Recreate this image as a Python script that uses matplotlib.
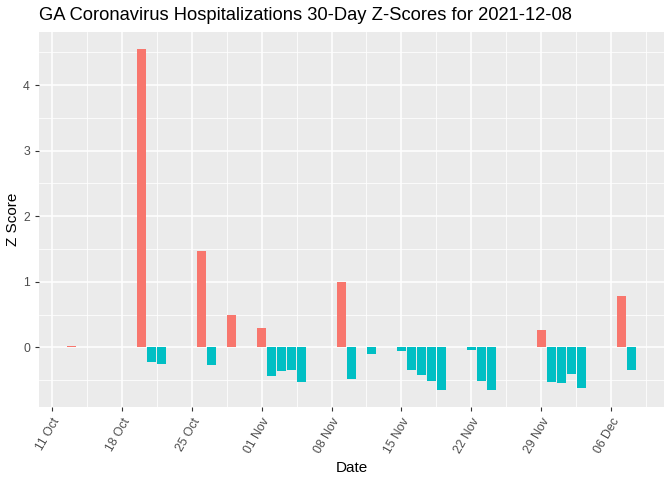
import matplotlib
matplotlib.use("Agg")
import matplotlib.pyplot as plt
import matplotlib.dates as mdates
import numpy as np
import pandas as pd

plt.rcParams['font.family'] = ['Liberation Sans', 'DejaVu Sans']

# z-scores
dates = ["2021-10-13", "2021-10-20", "2021-10-21", "2021-10-22", "2021-10-26",
         "2021-10-27", "2021-10-29", "2021-11-01", "2021-11-02", "2021-11-03",
         "2021-11-04", "2021-11-05", "2021-11-09", "2021-11-10", "2021-11-12",
         "2021-11-15", "2021-11-16", "2021-11-17", "2021-11-18", "2021-11-19",
         "2021-11-22", "2021-11-23", "2021-11-24", "2021-11-29", "2021-11-30",
         "2021-12-01", "2021-12-02", "2021-12-03", "2021-12-07", "2021-12-08"]
zscores = [0.02, 4.55, -0.23, -0.25, 1.47,
           -0.27, 0.49, 0.29, -0.44, -0.36,
           -0.35, -0.53, 1.00, -0.48, -0.10,
           -0.06, -0.35, -0.42, -0.52, -0.65,
           -0.045, -0.52, -0.65, 0.27, -0.53,
           -0.55, -0.41, -0.62, 0.78, -0.35]

d = pd.to_datetime(dates)
z = np.array(zscores)
cols = np.where(z > 0, "#F8766D", "#00BFC4")

fig = plt.figure(figsize=(6.72, 4.8), dpi=100)
ax = fig.add_axes([39/672, 73/480, 625/672, 375/480])
ax.set_facecolor("#EBEBEB")
ax.bar(d, z, width=0.9, color=cols, zorder=3)

ticks = pd.date_range("2021-10-11", "2021-12-06", freq="7D")
ax.set_xticks(ticks)
ax.set_xticklabels([t.strftime("%d %b") for t in ticks], rotation=60,
                   ha="right", rotation_mode="anchor")
minor = [mdates.date2num(t) + 3.5 for t in pd.date_range("2021-10-04", "2021-12-06", freq="7D")]
ax.set_xticks(minor, minor=True)
ax.set_yticks([0, 1, 2, 3, 4])
ax.set_yticks([-0.5, 0.5, 1.5, 2.5, 3.5, 4.5], minor=True)

# ggplot-like limits (5% expansion), set after ticks so they stick
x0 = mdates.date2num(d.min()) - 0.45
x1 = mdates.date2num(d.max()) + 0.45
pad = (x1 - x0) * 0.05
ax.set_xlim(x0 - pad, x1 + pad)
ypad = (z.max() - z.min()) * 0.05
ax.set_ylim(z.min() - ypad, z.max() + ypad)

ax.grid(True, which="major", color="white", linewidth=1.1, zorder=0)
ax.grid(True, which="minor", color="white", linewidth=0.55, zorder=0)
ax.tick_params(which="major", length=3, color="#333333", labelcolor="#4D4D4D",
               labelsize=8.8)
ax.tick_params(which="minor", length=0)
for s in ax.spines.values():
    s.set_visible(False)

ax.set_xlabel("Date", fontsize=11)
ax.set_ylabel("Z Score", fontsize=11, labelpad=2)
fig.text(39/672, 1 - 16/480, "GA Coronavirus Hospitalizations 30-Day Z-Scores for 2021-12-08",
         fontsize=13.2, va="center", ha="left")

fig.savefig("out.png", dpi=100)
